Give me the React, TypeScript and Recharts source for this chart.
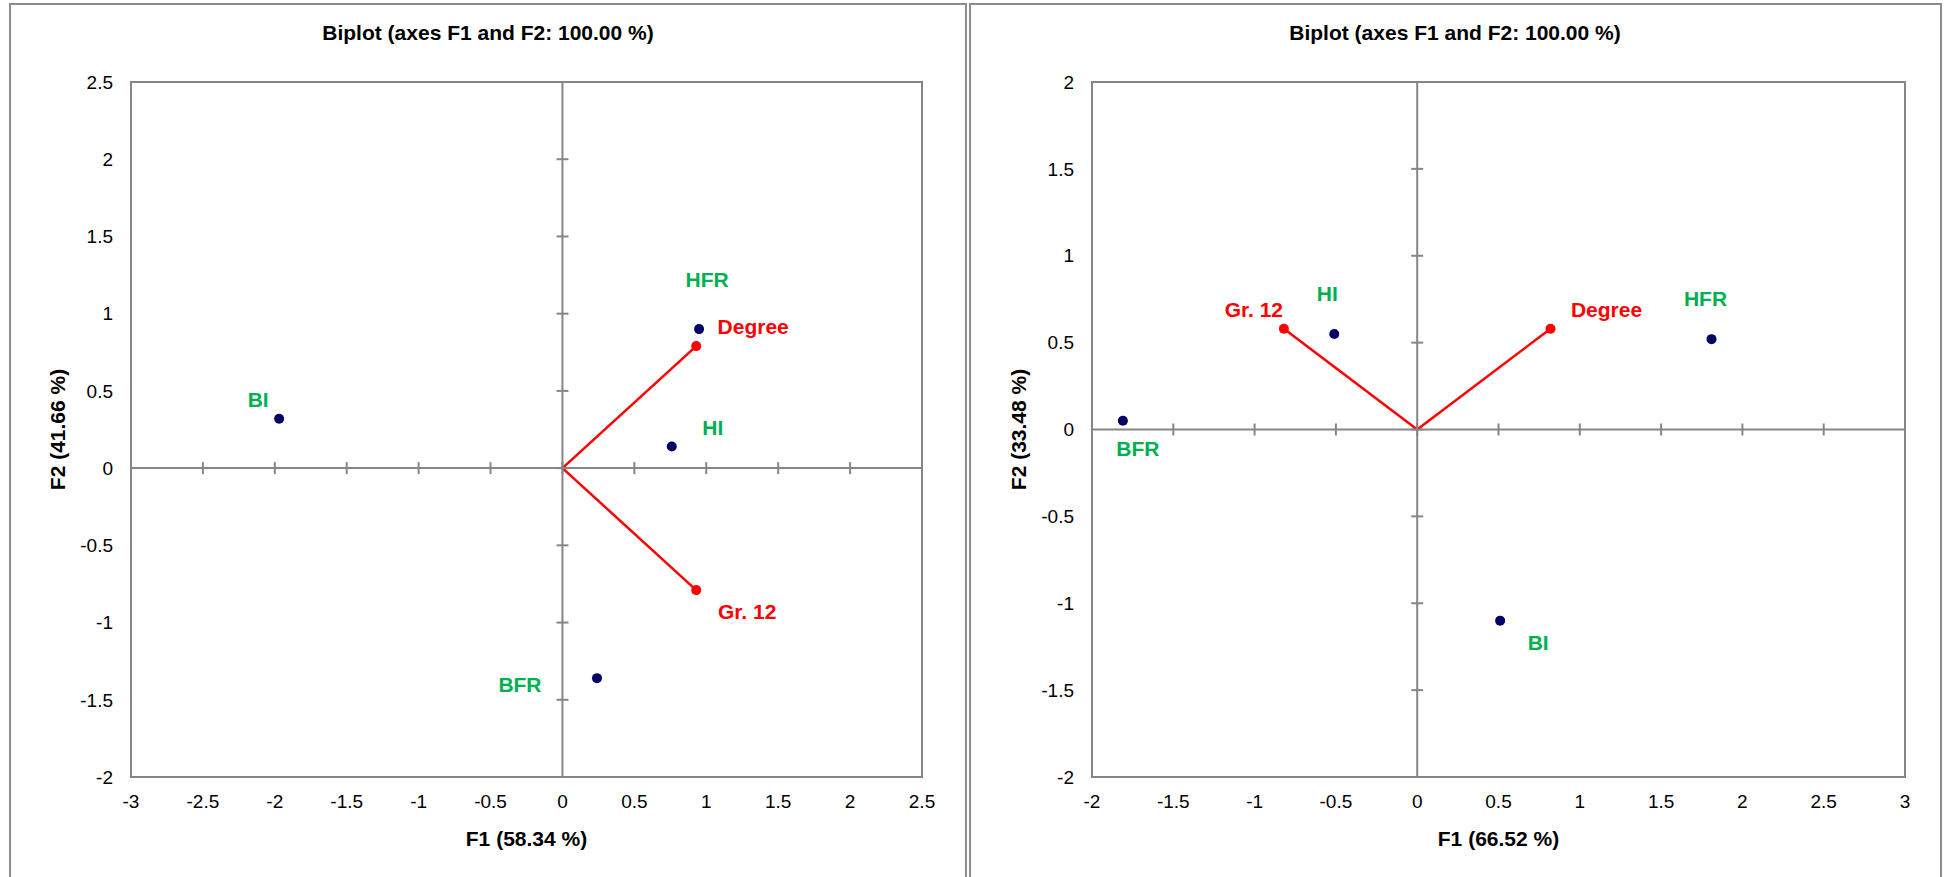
import React from 'react';
import { ScatterChart, Scatter, XAxis, YAxis, ReferenceLine, ReferenceArea, Label } from 'recharts';

const FONT = '"Liberation Sans", Arial, sans-serif';
const GRAY = '#868686';
const FRAME = '#8c8c8c';
const NAVY = '#000066';
const GREEN = '#00b050';
const RED = '#ff0000';

const titleText = 'Biplot (axes F1 and F2: 100.00 %)';

// left biplot
const leftXTicks = [-3, -2.5, -2, -1.5, -1, -0.5, 0, 0.5, 1, 1.5, 2, 2.5];
const leftYTicks = [-2, -1.5, -1, -0.5, 0, 0.5, 1, 1.5, 2, 2.5];
const leftObsNames = ['HFR', 'HI', 'BI', 'BFR'];
const leftObsF1 = [0.95, 0.76, -1.97, 0.24];
const leftObsF2 = [0.9, 0.14, 0.32, -1.36];
const leftVarNames = ['Degree', 'Gr. 12'];
const leftVarF1 = [0.93, 0.93];
const leftVarF2 = [0.79, -0.79];

// right biplot
const rightXTicks = [-2, -1.5, -1, -0.5, 0, 0.5, 1, 1.5, 2, 2.5, 3];
const rightYTicks = [-2, -1.5, -1, -0.5, 0, 0.5, 1, 1.5, 2];
const rightObsNames = ['HFR', 'HI', 'BI', 'BFR'];
const rightObsF1 = [1.81, -0.51, 0.51, -1.81];
const rightObsF2 = [0.52, 0.55, -1.1, 0.05];
const rightVarNames = ['Degree', 'Gr. 12'];
const rightVarF1 = [0.82, -0.82];
const rightVarF2 = [0.58, 0.58];

// label placement (px from the point to the label's centre)
const leftLabelOffsets: Record<string, [number, number]> = {
  HFR: [8, -50], HI: [41, -19], BI: [-21, -19], BFR: [-77, 6], Degree: [57, -20], 'Gr. 12': [51, 21],
};
const rightLabelOffsets: Record<string, [number, number]> = {
  HFR: [-6, -41], HI: [-7, -40], BI: [38, 22], BFR: [15, 28], Degree: [56, -19], 'Gr. 12': [-30, -19],
};

const toPoints = (names: string[], f1: number[], f2: number[]) =>
  names.map((name, i) => ({ name, x: f1[i], y: f2[i] }));

function pointShape(color: string, labelColor: string, offsets: Record<string, [number, number]>) {
  return (p: any) => {
    const name = p.payload?.name ?? p.name;
    const [dx, dy] = offsets[name] || [0, 0];
    return (
      <g>
        <circle cx={p.cx} cy={p.cy} r={5} fill={color} />
        <text x={p.cx + dx} y={p.cy + dy + 7.5} textAnchor="middle" fontFamily={FONT} fontSize={21}
          fontWeight="bold" fill={labelColor}>{name}</text>
      </g>
    );
  };
}

interface BiplotProps {
  left: number;
  width: number;
  yAxisWidth: number;
  rightMargin: number;
  xTicks: number[];
  yTicks: number[];
  xLabel: string;
  yLabel: string;
  obs: { name: string; x: number; y: number }[];
  vars: { name: string; x: number; y: number }[];
  offsets: Record<string, [number, number]>;
}

function Biplot(props: BiplotProps) {
  const { xTicks, yTicks } = props;
  const xDomain = [xTicks[0], xTicks[xTicks.length - 1]];
  const yDomain = [yTicks[0], yTicks[yTicks.length - 1]];
  const xTickMarks = xTicks.map((t) => ({ x: t, y: 0 }));
  const yTickMarks = yTicks.map((t) => ({ x: 0, y: t }));
  const tickStyle = { fontFamily: FONT, fontSize: 19, fill: '#000' };
  return (
    <div style={{ position: 'absolute', left: props.left, top: 0 }}>
      <ScatterChart width={props.width} height={877} margin={{ top: 82, right: props.rightMargin, bottom: 40, left: 0 }}>
        <XAxis type="number" dataKey="x" domain={xDomain} ticks={xTicks} allowDataOverflow
          axisLine={false} tickLine={false} tickSize={0} tickMargin={18} height={60} tick={tickStyle} interval={0}>
          <Label content={(lp: any) => {
            const vb = lp.viewBox;
            return (
              <text x={vb.x + vb.width / 2} y={vb.y + 69} textAnchor="middle" fontFamily={FONT}
                fontSize={21} fontWeight="bold" fill="#000">{props.xLabel}</text>
            );
          }} />
        </XAxis>
        <YAxis type="number" dataKey="y" domain={yDomain} ticks={yTicks} allowDataOverflow
          axisLine={false} tickLine={false} tickSize={0} tickMargin={18} width={props.yAxisWidth} tick={tickStyle} interval={0}>
          <Label content={(lp: any) => {
            const vb = lp.viewBox;
            const cx = vb.x + vb.width - 74;
            const cy = vb.y + vb.height / 2;
            return (
              <text x={cx} y={cy} transform={`rotate(-90 ${cx} ${cy})`} textAnchor="middle" dominantBaseline="central"
                fontFamily={FONT} fontSize={21} fontWeight="bold" fill="#000">{props.yLabel}</text>
            );
          }} />
        </YAxis>
        <ReferenceArea x1={xDomain[0]} x2={xDomain[1]} y1={yDomain[0]} y2={yDomain[1]}
          fill="none" fillOpacity={0} stroke={GRAY} strokeWidth={2} />
        <ReferenceLine x={0} stroke={GRAY} strokeWidth={2} />
        <ReferenceLine y={0} stroke={GRAY} strokeWidth={2} />
        <Scatter data={xTickMarks} isAnimationActive={false}
          shape={(p: any) => <line x1={p.cx} x2={p.cx} y1={p.cy - 6} y2={p.cy + 6} stroke={GRAY} strokeWidth={2} />} />
        <Scatter data={yTickMarks} isAnimationActive={false}
          shape={(p: any) => <line x1={p.cx - 6} x2={p.cx + 6} y1={p.cy} y2={p.cy} stroke={GRAY} strokeWidth={2} />} />
        {props.vars.map((v) => (
          <ReferenceLine key={v.name} segment={[{ x: 0, y: 0 }, { x: v.x, y: v.y }]} stroke={RED} strokeWidth={2.5} />
        ))}
        <Scatter data={props.obs} isAnimationActive={false} shape={pointShape(NAVY, GREEN, props.offsets)} />
        <Scatter data={props.vars} isAnimationActive={false} shape={pointShape(RED, RED, props.offsets)} />
      </ScatterChart>
    </div>
  );
}

function Frame({ left, width, center }: { left: number; width: number; center: number }) {
  return (
    <>
      <div style={{
        position: 'absolute', left, top: 3, width, height: 900, boxSizing: 'border-box',
        borderTop: `2px solid ${FRAME}`, borderLeft: `2px solid ${FRAME}`, borderRight: `2px solid ${FRAME}`,
      }} />
      <svg style={{ position: 'absolute', left: 0, top: 0 }} width={1945} height={60}>
        <text x={center} y={40} textAnchor="middle" fontFamily={FONT} fontSize={21} fontWeight="bold" fill="#000">
          {titleText}
        </text>
      </svg>
    </>
  );
}

export default function App() {
  return (
    <div style={{ position: 'absolute', left: 0, top: 0, width: 1945, height: 877, overflow: 'hidden', background: '#fff' }}>
      <Frame left={9} width={958} center={488} />
      <Frame left={969} width={973} center={1455} />
      <Biplot left={0} width={968} yAxisWidth={131} rightMargin={46}
        xTicks={leftXTicks} yTicks={leftYTicks} xLabel="F1 (58.34 %)" yLabel="F2 (41.66 %)"
        obs={toPoints(leftObsNames, leftObsF1, leftObsF2)} vars={toPoints(leftVarNames, leftVarF1, leftVarF2)}
        offsets={leftLabelOffsets} />
      <Biplot left={968} width={977} yAxisWidth={124} rightMargin={40}
        xTicks={rightXTicks} yTicks={rightYTicks} xLabel="F1 (66.52 %)" yLabel="F2 (33.48 %)"
        obs={toPoints(rightObsNames, rightObsF1, rightObsF2)} vars={toPoints(rightVarNames, rightVarF1, rightVarF2)}
        offsets={rightLabelOffsets} />
    </div>
  );
}
